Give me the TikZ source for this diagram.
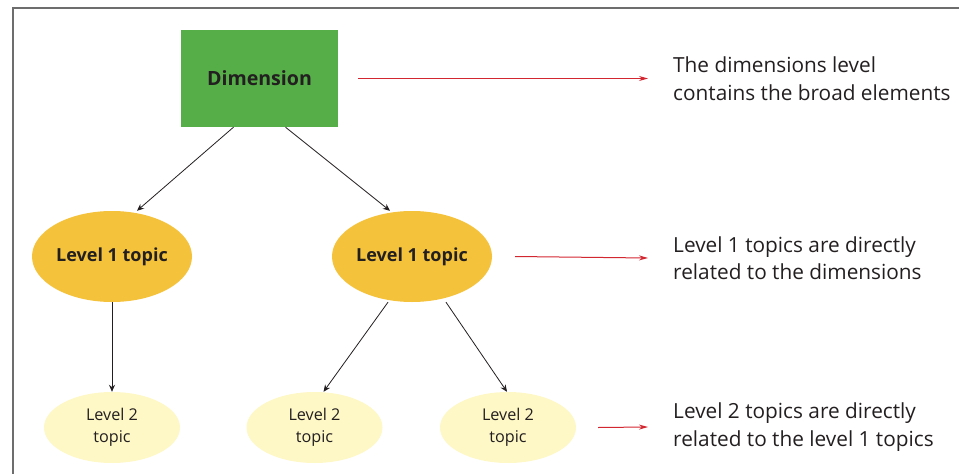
\documentclass[tikz,border=0pt]{standalone}
\usepackage{fontspec}
\setmainfont{Open Sans}
\usepackage{tikz}
\usetikzlibrary{calc}
\usetikzlibrary{positioning}
\usetikzlibrary{shapes}
\usetikzlibrary{arrows.meta}

\definecolor{dimgreen}{HTML}{55AE48}
\definecolor{lvlone}{HTML}{F5C23C}
\definecolor{lvltwo}{HTML}{FEF7C6}
\definecolor{arrred}{HTML}{D22630}
\definecolor{inkdark}{HTML}{231F20}
\definecolor{framegray}{HTML}{6D6D6D}

\begin{document}
\begin{tikzpicture}[x=1pt, y=-1pt,
		dimbox/.style={rectangle, fill=dimgreen, minimum width=157pt, minimum height=97pt,
			text=inkdark, font=\bfseries\fontsize{19.6}{22}\selectfont},
		topicone/.style={ellipse, fill=lvlone, minimum width=160pt, minimum height=91pt,
			inner sep=0pt, text=inkdark, font=\bfseries\fontsize{18}{20}\selectfont},
		topictwo/.style={ellipse, fill=lvltwo, minimum width=136pt, minimum height=71pt,
			inner sep=0pt, align=center, text=inkdark, font=\fontsize{16.2}{22}\selectfont},
		note/.style={anchor=west, inner sep=0pt, align=left, text=inkdark,
			font=\fontsize{20.8}{27.5}\selectfont},
		link/.style={-{Stealth[length=7pt, width=6pt]}, line width=0.8pt, inkdark},
		redlink/.style={-{Stealth[length=9pt, width=5pt]}, line width=1pt, arrred}]
		\useasboundingbox (0,0) rectangle (959,474);

		% frame
		\draw[framegray, line width=1.5pt] (13,474) -- (13,8) -- (959,8);

		% tree
		\node[dimbox] (dim) at (259.5,78.5) {Dimension};
		\node[topicone] (lonea) at (112,256.5) {Level 1 topic};
		\node[topicone] (loneb) at (412,256.5) {Level 1 topic};
		\node[topictwo] (ltwoa) at (112,427.5) {Level 2\\topic};
		\node[topictwo] (ltwob) at (314.5,427.5) {Level 2\\topic};
		\node[topictwo] (ltwoc) at (508,427.5) {Level 2\\topic};

		\draw[link] ([xshift=-26pt]dim.south) -- ([xshift=25pt]lonea.north);
		\draw[link] ([xshift=26pt]dim.south) -- ([xshift=-22pt]loneb.north);
		\draw[link] (lonea.south) -- (ltwoa.north);
		\draw[link] ([xshift=-24pt]loneb.south) -- ([xshift=9pt]ltwob.north);
		\draw[link] ([xshift=34pt]loneb.south) -- ([xshift=-1pt]ltwoc.north);

		% notes
		\node[note] (notea) at (673,78.5) {The dimensions level\\contains the broad elements};
		\node[note] (noteb) at (673,258) {Level 1 topics are directly\\related to the dimensions};
		\node[note] (notec) at (673,427) {Level 2 topics are directly\\related to the level 1 topics};

		\draw[redlink] ([xshift=20pt]dim.east) -- ([xshift=-25pt]notea.west);
		\draw[redlink] ([xshift=23pt]loneb.east) -- ([xshift=-25pt]noteb.west);
		\draw[redlink] ([xshift=22pt]ltwoc.east) -- ([xshift=-25pt]notec.west);
\end{tikzpicture}
\end{document}
